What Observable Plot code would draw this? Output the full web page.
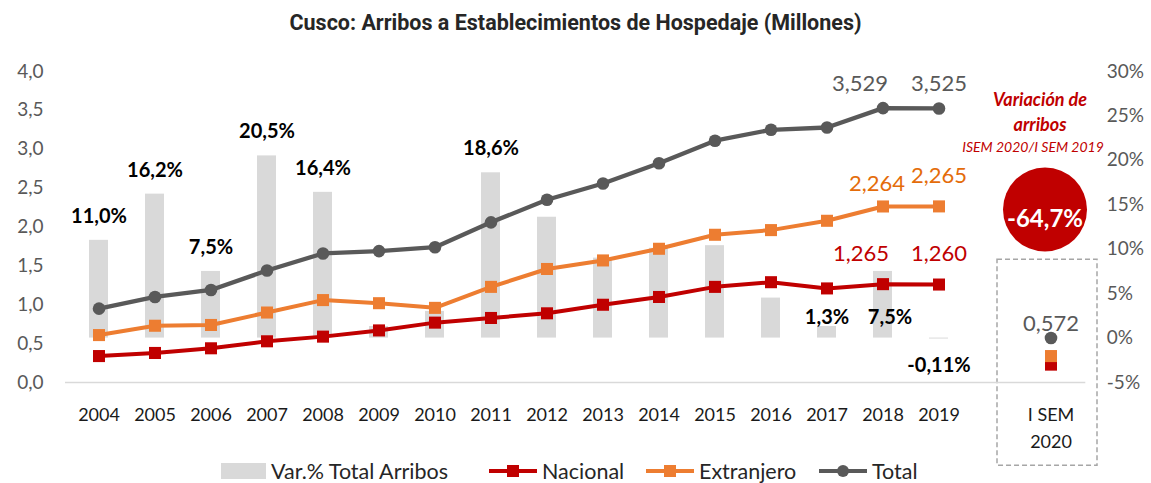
<!DOCTYPE html>
<html><head><meta charset="utf-8">
<script src="https://cdn.jsdelivr.net/npm/d3@7"></script>
<script src="https://cdn.jsdelivr.net/npm/@observablehq/plot@0.6"></script>
<style>
body{margin:0;background:#fff;font-family:Lato,"Open Sans",sans-serif;}
#wrap{position:relative;width:1151px;height:483px;overflow:hidden;background:#fff}
#title{position:absolute;top:10px;left:0;width:1151px;text-align:center;font-weight:bold;font-size:21.5px;line-height:26px;font-family:Roboto,sans-serif;color:#262626}
#chart{position:absolute;top:45px;left:0}
#legend{position:absolute;top:460px;left:0;width:1151px;height:22px;font-size:21.5px;line-height:22px;color:#262626;white-space:nowrap}
#legend .it{position:absolute;top:0;display:flex;align-items:center;height:22px}
#legend svg{margin-right:5px}
</style></head>
<body><div id="wrap">
<div id="title">Cusco: Arribos a Establecimientos de Hospedaje (Millones)</div>
<div id="chart"></div>
<div id="legend"></div>
</div>
<script>
// ---- data ----
const years = ["2004","2005","2006","2007","2008","2009","2010","2011","2012","2013","2014","2015","2016","2017","2018","2019"];
const gapCat = " ";
const semCat = "I SEM 2020";
const nacional   = [0.34,0.38,0.44,0.53,0.59,0.67,0.77,0.83,0.89,1.00,1.10,1.23,1.29,1.21,1.265,1.260];
const extranjero = [0.61,0.73,0.74,0.90,1.06,1.02,0.96,1.23,1.46,1.57,1.72,1.90,1.96,2.08,2.264,2.265];
const total      = [0.95,1.10,1.19,1.44,1.66,1.69,1.74,2.06,2.35,2.56,2.82,3.11,3.25,3.28,3.529,3.525];
const varTotal   = [11.0,16.2,7.5,20.5,16.4,1.3,3.0,18.6,13.6,9.0,10.1,10.4,4.5,1.3,7.5,-0.11];
const semNacional = 0.23, semExtranjero = 0.34, semTotal = 0.572;
const semVariacion = -64.7;
const leftTicks = [0,0.5,1,1.5,2,2.5,3,3.5,4];
const rightTicks = [-5,0,5,10,15,20,25,30];
const labeledAbove = ["2004","2005","2006","2007","2008","2011"];

// ---- helpers ----
const pct = p => (p + 5) * 4 / 35;            // right axis (%) -> left axis units
const unpct = v => Math.round(v * 35 / 4 - 5);
const comma = (v, n) => v.toFixed(n).replace(".", ",");

const rows = years.map((y, i) => ({year: y, nac: nacional[i], ext: extranjero[i], tot: total[i], v: varTotal[i]}));
const sem = [{year: semCat, nac: semNacional, ext: semExtranjero, tot: semTotal, v: semVariacion}];
const y2018 = rows.filter(d => d.year === "2018");
const y2019 = rows.filter(d => d.year === "2019");

const RED = "#c00000", ORANGE = "#ed7d31", GRAY = "#595959", BAR = "#d9d9d9", ORANGE_TXT = "#e46c0a";

const chart = Plot.plot({
  width: 1151, height: 438,
  marginLeft: 55, marginRight: 56.7, marginTop: 26, marginBottom: 101,
  style: {fontFamily: "Lato, 'Open Sans', sans-serif", background: "transparent"},
  x: {type: "band", domain: [...years, gapCat, semCat], paddingInner: 0.66, paddingOuter: 0.5},
  y: {domain: [0, 4]},
  marks: [
    // dashed box around I SEM 2020
    Plot.barY(sem, {x: "year", y1: -1.07, y2: 1.58, fill: "none", stroke: "#a6a6a6", strokeWidth: 1.5, strokeDasharray: "5,3", insetLeft: -44, insetRight: -37}),
    Plot.ruleY([0], {stroke: "#d9d9d9", strokeWidth: 1.5, insetLeft: 10, insetRight: 9}),
    Plot.axisY(leftTicks, {anchor: "left", tickSize: 0, tickPadding: 12, fontSize: 19, fill: GRAY, label: null, tickFormat: d => comma(d, 1)}),
    Plot.axisY(rightTicks.map(pct), {anchor: "right", tickSize: 0, tickPadding: 12, fontSize: 19, fill: GRAY, label: null, tickFormat: d => unpct(d) + "%"}),
    Plot.axisX({tickSize: 0, tickPadding: 19, fontSize: 18, fill: "#1a1a1a", lineHeight: 1.5, label: null,
      tickFormat: d => d === semCat ? "I SEM\n2020" : d}),
    // bars (right axis)
    Plot.barY(rows, {x: "year", y1: () => pct(0), y2: d => pct(d.v), fill: BAR}),
    // lines
    Plot.lineY(rows, {x: "year", y: "nac", stroke: RED, strokeWidth: 4}),
    Plot.dot(rows, {x: "year", y: "nac", symbol: "square", r: 6.8, fill: RED}),
    Plot.lineY(rows, {x: "year", y: "ext", stroke: ORANGE, strokeWidth: 4}),
    Plot.dot(rows, {x: "year", y: "ext", symbol: "square", r: 6.8, fill: ORANGE}),
    Plot.lineY(rows, {x: "year", y: "tot", stroke: GRAY, strokeWidth: 4.3}),
    Plot.dot(rows, {x: "year", y: "tot", r: 6.3, fill: GRAY}),
    // I SEM 2020 points
    Plot.dot(sem, {x: "year", y: "nac", symbol: "square", r: 6.8, fill: RED}),
    Plot.dot(sem, {x: "year", y: "ext", symbol: "square", r: 6.8, fill: ORANGE}),
    Plot.dot(sem, {x: "year", y: "tot", r: 6.3, fill: GRAY}),
    Plot.text(sem, {x: "year", y: "tot", text: d => comma(d.tot, 3), dy: -14, fontSize: 22, fill: GRAY}),
    // bar labels
    Plot.text(rows.filter(d => labeledAbove.includes(d.year)), {x: "year", y: d => pct(d.v), text: d => comma(d.v, 1) + "%", dy: -24, fontSize: 20, fontWeight: "bold", fill: "#000"}),
    Plot.text(rows.filter(d => d.year === "2017"), {x: "year", y: d => pct(d.v), text: d => comma(d.v, 1) + "%", dy: -8.5, fontSize: 20, fontWeight: "bold", fill: "#000"}),
    Plot.text(y2018, {x: "year", y: d => pct(d.v), text: d => comma(d.v, 1) + "%", dy: 46, dx: 7, fontSize: 20, fontWeight: "bold", fill: "#000"}),
    Plot.text(y2019, {x: "year", y: d => pct(d.v), text: d => comma(d.v, 2) + "%", dy: 27, fontSize: 20, fontWeight: "bold", fill: "#000"}),
    // value labels for 2018 and 2019
    Plot.text(y2018, {x: "year", y: "tot", text: d => comma(d.tot, 3), dx: -23, dy: -24, fontSize: 22, fill: GRAY}),
    Plot.text(y2019, {x: "year", y: "tot", text: d => comma(d.tot, 3), dy: -24, fontSize: 22, fill: GRAY}),
    Plot.text(y2018, {x: "year", y: "ext", text: d => comma(d.ext, 3), dx: -6, dy: -23, fontSize: 22, fill: ORANGE_TXT}),
    Plot.text(y2019, {x: "year", y: "ext", text: d => comma(d.ext, 3), dy: -30, fontSize: 22, fill: ORANGE_TXT}),
    Plot.text(y2018, {x: "year", y: "nac", text: d => comma(d.nac, 3), dx: -22, dy: -30, fontSize: 22, fill: RED}),
    Plot.text(y2019, {x: "year", y: "nac", text: d => comma(d.nac, 3), dy: -31, fontSize: 22, fill: RED}),
    // variation annotation
    Plot.text(sem, {x: "year", frameAnchor: "top", text: () => "Variación de", dx: -11, dy: 22, fontSize: 18, fontWeight: "bold", fontStyle: "italic", fill: RED}),
    Plot.text(sem, {x: "year", frameAnchor: "top", text: () => "arribos", dx: -11, dy: 47, fontSize: 18, fontWeight: "bold", fontStyle: "italic", fill: RED}),
    Plot.text(sem, {x: "year", frameAnchor: "top", text: () => "ISEM 2020/I SEM 2019", dx: -18, dy: 71, fontSize: 14, fontStyle: "italic", fill: RED}),
    Plot.dot(sem, {x: "year", frameAnchor: "top", r: 42, dx: -6, dy: 138, fill: RED}),
    Plot.text(sem, {x: "year", frameAnchor: "top", text: d => comma(d.v, 1) + "%", dx: -6, dy: 138, fontSize: 24, fontWeight: "bold", fill: "#fff"})
  ]
});
document.getElementById("chart").appendChild(chart);

// ---- legend ----
const legendItems = [
  {label: "Var.% Total Arribos", kind: "bar", color: BAR, left: 221},
  {label: "Nacional", kind: "square", color: RED, left: 489},
  {label: "Extranjero", kind: "square", color: ORANGE, left: 646},
  {label: "Total", kind: "circle", color: GRAY, left: 819}
];
const leg = d3.select("#legend");
legendItems.forEach(it => {
  const item = leg.append("div").attr("class", "it").style("left", it.left + "px");
  const s = item.append("svg").attr("width", it.kind === "bar" ? 45 : 48).attr("height", 20);
  if (it.kind === "bar") s.append("rect").attr("x", 0).attr("y", 2).attr("width", 45).attr("height", 16).attr("fill", it.color);
  else {
    s.append("line").attr("x1", 0).attr("x2", 48).attr("y1", 10).attr("y2", 10).attr("stroke", it.color).attr("stroke-width", 4);
    if (it.kind === "square") s.append("rect").attr("x", 18).attr("y", 4).attr("width", 12).attr("height", 12).attr("fill", it.color);
    else s.append("circle").attr("cx", 24).attr("cy", 10).attr("r", 6).attr("fill", it.color);
  }
  item.append("span").text(it.label);
});
</script>
</body></html>
